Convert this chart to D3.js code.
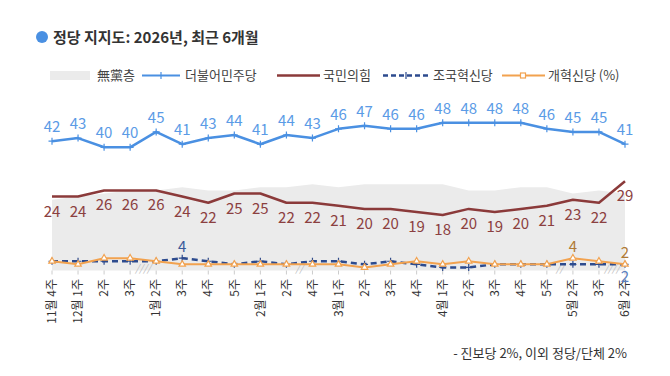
<!DOCTYPE html>
<html>
<head>
<meta charset="utf-8">
<script src="https://cdn.jsdelivr.net/npm/d3@7"></script>
<style>
  body { margin: 0; background: #fff; }
  svg { display: block; font-family: "Noto Sans CJK KR", "Noto Sans", sans-serif; }
</style>
</head>
<body>
<svg id="chart" width="670" height="376"></svg>
<script>
// weekly survey points (Gallup-style), % values
var weeks = ["11월 4주", "12월 1주", "2주", "3주", "1월 2주", "3주", "4주", "5주",
    "2월 1주", "2주", "4주", "3월 1주", "2주", "3주", "4주", "4월 1주", "2주", "3주",
    "4주", "5주", "5월 2주", "3주", "6월 2주"];
var independents = [23, 24, 25, 26, 26, 27, 26, 26, 27, 27, 28, 27, 28, 28, 28, 28,
    26, 26, 27, 27, 25, 26, 25];
var democratic = [42, 43, 40, 40, 45, 41, 43, 44, 41, 44, 43, 46, 47, 46, 46, 48,
    48, 48, 48, 46, 45, 45, 41];
var ppp = [24, 24, 26, 26, 26, 24, 22, 25, 25, 22, 22, 21, 20, 20, 19, 18, 20, 19,
    20, 21, 23, 22, 29];
var rebuilding = [3, 3, 3, 3, 3, 4, 3, 2, 3, 2, 3, 3, 2, 3, 2, 1, 1, 2, 2, 2, 2, 2, 2];
var reform = [3, 2, 4, 4, 3, 2, 2, 2, 2, 2, 2, 2, 1, 2, 3, 2, 3, 2, 2, 2, 4, 3, 2];
// skipped weeks: [index before gap, mark]
var gaps = [[3, "////"], [9, "//"], [19, "//"], [21, "////"]];
// only these points of the small parties carry a value label
var rebuildingLabels = [5, 22];
var reformLabels = [20, 22];

var svg = d3.select("#chart");

var x = d3.scaleLinear().domain([0, weeks.length - 1]).range([52, 625]);
var y = d3.scaleLinear().domain([0, 50]).range([270.5, 116.5]);

function pts(values) {
    return values.map(function (v, i) { return [i, v]; });
}

// title
svg.append("circle").attr("cx", 42).attr("cy", 37).attr("r", 6).attr("fill", "#4a90e2");
svg.append("text").attr("x", 53).attr("y", 43)
    .attr("font-size", 15).attr("font-weight", "bold").attr("fill", "#333")
    .text("정당 지지도: 2026년, 최근 6개월");

// legend
var lg = svg.append("g").attr("font-size", 13).attr("fill", "#444");
lg.append("rect").attr("x", 50).attr("y", 71).attr("width", 40).attr("height", 9).attr("fill", "#ebebeb");
lg.append("text").attr("x", 97).attr("y", 80).text("無黨층");
function legendLine(x0, x1, color, dash, width) {
    lg.append("line").attr("x1", x0).attr("x2", x1).attr("y1", 75.5).attr("y2", 75.5)
        .attr("stroke", color).attr("stroke-width", width).attr("stroke-dasharray", dash);
}
legendLine(142, 180, "#4a90e2", null, 2);
lg.append("path").attr("d", "M161,72v7").attr("stroke", "#4a90e2").attr("stroke-width", 1.2);
lg.append("text").attr("x", 185).attr("y", 80).text("더불어민주당");
legendLine(277, 320, "#8b3a3a", null, 2.5);
lg.append("text").attr("x", 323).attr("y", 80).text("국민의힘");
legendLine(383, 430, "#2d4b8e", "5,3", 2.5);
lg.append("path").attr("d", "M406,72v7").attr("stroke", "#2d4b8e").attr("stroke-width", 1.2);
lg.append("text").attr("x", 433).attr("y", 80).text("조국혁신당");
legendLine(502, 545, "#f2a24f", null, 2);
lg.append("rect").attr("x", 520.5).attr("y", 73).attr("width", 5).attr("height", 5)
    .attr("fill", "#fff").attr("stroke", "#f2a24f").attr("stroke-width", 1.2);
lg.append("text").attr("x", 548).attr("y", 80).text("개혁신당 (%)");

// independents area
svg.append("path")
    .datum(pts(independents))
    .attr("fill", "#ebebeb")
    .attr("d", d3.area()
        .x(function (d) { return x(d[0]); })
        .y0(y(0))
        .y1(function (d) { return y(d[1]); }));

// x ticks and rotated labels
var ticks = svg.append("g");
ticks.selectAll("line").data(weeks).join("line")
    .attr("x1", function (d, i) { return x(i); })
    .attr("x2", function (d, i) { return x(i); })
    .attr("y1", y(0)).attr("y2", y(0) + 4)
    .attr("stroke", "#ccc");
ticks.selectAll("text").data(weeks).join("text")
    .attr("transform", function (d, i) { return "translate(" + x(i) + ",279) rotate(-90)"; })
    .attr("text-anchor", "end")
    .attr("dy", "0.35em")
    .attr("font-size", 12)
    .attr("fill", "#333")
    .text(function (d) { return d; });

// gap marks on the baseline
svg.append("g").selectAll("text").data(gaps).join("text")
    .attr("x", function (d) { return x(d[0] + 0.5); })
    .attr("y", y(0) + 1)
    .attr("text-anchor", "middle")
    .attr("font-size", 10)
    .attr("font-style", "italic")
    .attr("fill", "#bbb")
    .text(function (d) { return d[1]; });

var line = d3.line()
    .x(function (d) { return x(d[0]); })
    .y(function (d) { return y(d[1]); });

function series(values, color, width, dash) {
    svg.append("path").datum(pts(values))
        .attr("fill", "none").attr("stroke", color)
        .attr("stroke-width", width).attr("stroke-dasharray", dash)
        .attr("stroke-linejoin", "round")
        .attr("d", line);
}

function crosses(values, color) {
    svg.append("g").selectAll("path").data(pts(values)).join("path")
        .attr("d", function (d) {
            var px = x(d[0]), py = y(d[1]);
            return "M" + (px - 3.5) + "," + py + "h7M" + px + "," + (py - 3.5) + "v7";
        })
        .attr("stroke", color).attr("stroke-width", 1.2);
}

function labels(values, idx, color, dy) {
    svg.append("g").selectAll("text").data(idx).join("text")
        .attr("x", function (i) { return x(i); })
        .attr("y", function (i) { return y(values[i]) + dy; })
        .attr("text-anchor", "middle")
        .attr("font-size", 15)
        .attr("fill", color)
        .text(function (i) { return values[i]; });
}

var all = d3.range(weeks.length);

series(ppp, "#8b3a3a", 2.5, null);
series(rebuilding, "#2d4b8e", 2.5, "6,4");
crosses(rebuilding, "#2d4b8e");
series(reform, "#f2a24f", 2, null);
svg.append("g").selectAll("path").data(pts(reform)).join("path")
    .attr("d", d3.symbol().type(d3.symbolTriangle).size(18))
    .attr("transform", function (d) { return "translate(" + x(d[0]) + "," + y(d[1]) + ")"; })
    .attr("fill", "#fff").attr("stroke", "#f2a24f").attr("stroke-width", 1.2);
series(democratic, "#4a90e2", 2.5, null);
crosses(democratic, "#4a90e2");

labels(democratic, all, "#5b9be6", -9);
labels(ppp, all, "#8b4040", 20);
labels(rebuilding, [rebuildingLabels[0]], "#3a5a9a", -6);
labels(rebuilding, [rebuildingLabels[1]], "#5b7fc0", 18);
labels(reform, reformLabels, "#b07a35", -6);

// footnote
svg.append("text").attr("x", 627).attr("y", 358)
    .attr("text-anchor", "end").attr("font-size", 13).attr("fill", "#333")
    .text("- 진보당 2%, 이외 정당/단체 2%");
</script>
</body>
</html>
